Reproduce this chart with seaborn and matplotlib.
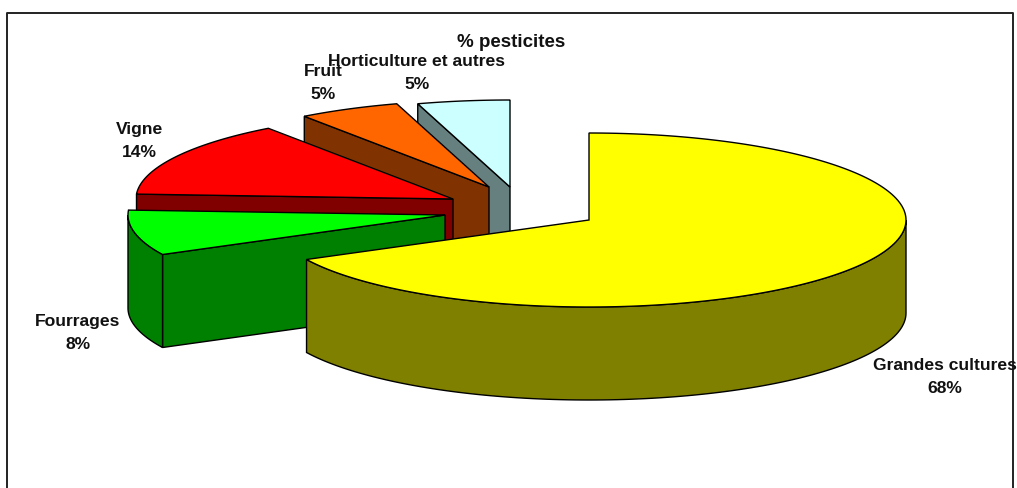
import numpy as np
import seaborn as sns
import matplotlib.pyplot as plt

# DATA
categories = ["Grandes cultures", "Fourrages", "Vigne", "Fruit", "Horticulture et autres"]
values = [67.5, 8.4, 14.2, 5.2, 4.7]
shown_pct = [68, 8, 14, 5, 5]
title_text = "% pesticites"

# layout, in pixels of the picture
top_colors = ["#ffff00", "#00ff00", "#ff0000", "#ff6600", "#ccffff"]
slice_x = [589, 445, 453, 489, 510]
slice_y = [220, 215, 199, 187, 187]
label_x = [945, 78, 139, 323, 417]
label_y = [377, 333, 141, 83, 73]
RX = 317
RY = 87
DEPTH = 93

sns.set_theme(style="white")
plt.rcParams['font.family'] = ['Liberation Sans', 'DejaVu Sans']
palette = sns.color_palette(top_colors)
side_colors = [tuple(c * 0.5 for c in col) for col in palette]

fig, ax = plt.subplots(figsize=(10.17, 4.88), dpi=100)
fig.subplots_adjust(0, 0, 1, 1)
ax.set_xlim(0, 1017)
ax.set_ylim(488, 0)
ax.axis("off")


def rim(cx, cy, t):
    # t is clockwise from the top of the pie
    return cx + RX * np.sin(t), cy - RY * np.cos(t)


shares = np.array(values) / sum(values) * 2 * np.pi
ends = np.cumsum(shares)
starts = ends - shares

# back slices first, the big one last so it hides the others
for i in range(len(values) - 1, -1, -1):
    cx, cy = slice_x[i], slice_y[i]
    t0, t1 = starts[i], ends[i]

    # cut face
    if i > 0:
        x0, y0 = rim(cx, cy, t0)
        ax.fill([cx, x0, x0, cx], [cy, y0, y0 + DEPTH, cy + DEPTH],
                facecolor=side_colors[i], edgecolor="black", lw=1)

    # outer wall, only the front half of the ellipse shows
    a = max(t0, np.pi / 2)
    b = min(t1, 3 * np.pi / 2)
    if b > a:
        t = np.linspace(a, b, 120)
        x, y = rim(cx, cy, t)
        ax.fill(np.r_[x, x[::-1]], np.r_[y, y[::-1] + DEPTH],
                facecolor=side_colors[i], edgecolor="black", lw=1)

    # top
    t = np.linspace(t0, t1, 200)
    x, y = rim(cx, cy, t)
    ax.fill(np.r_[cx, x], np.r_[cy, y], facecolor=palette[i], edgecolor="black", lw=1)

# chart frame, the bottom side is cut off
ax.plot([7, 7, 1013, 1013], [488, 13, 13, 488], color="#222222", lw=1.4, zorder=5)

ax.text(511, 42.5, title_text, fontsize=13.5, fontweight="bold", ha="center", va="center",
        color="#111111", zorder=6)
for i, name in enumerate(categories):
    ax.text(label_x[i], label_y[i], "{}\n{}%".format(name, shown_pct[i]), fontsize=12.6,
            fontweight="bold", ha="center", va="center", color="#111111", linespacing=1.65,
            zorder=6)

fig.savefig("out.png", dpi=100)
